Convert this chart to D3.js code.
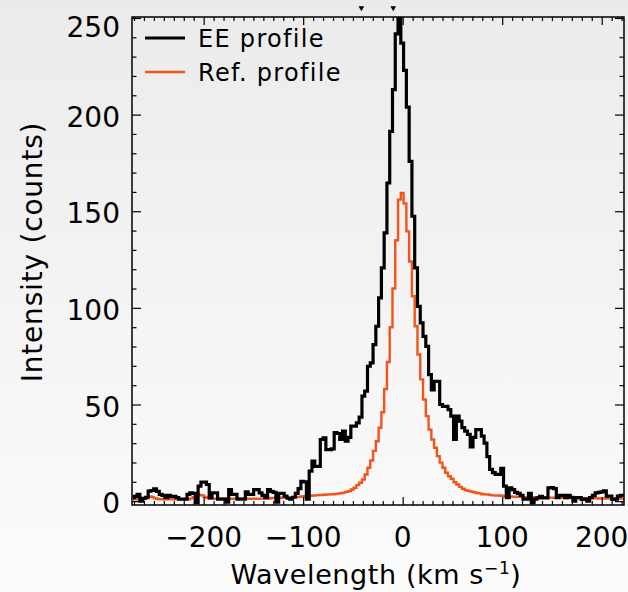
<!DOCTYPE html>
<html>
<head>
<meta charset="utf-8">
<script src="https://cdn.jsdelivr.net/npm/d3@7"></script>
<style>
  html, body { margin: 0; padding: 0; background: #f4f4f4; }
  svg { display: block; }
  text { font-family: "DejaVu Sans", sans-serif; fill: #000; }
</style>
</head>
<body>
<svg id="chart" width="628" height="592"></svg>
<script>
// ---- data ----
const binStart = -272.5;      // km/s, left edge of first spectral bin
const binWidth = 2.79;        // km/s per spectral bin
const eeProfile = [
  1.8, 2.5, 3.5, 0, 1.5, 2, 5.2, 5.5, 6.4, 5,
  3.5, 3, 1.8, 3, 2.5, 2.5, 1.8, 1, 1, 1,
  3.5, 4.3, 4, -0.8, 7.8, 9.8, 9.8, 8.6, 1.8, 4.3,
  4.3, 1, 1, 1, -0.5, 6, 3.5, 3.5, 1, 1,
  1, 4.8, 3.5, 3.5, 6, 6, 4.3, 3, 1.8, 6,
  5, 4.5, -0.5, 4, 4, 2.6, 1.5, 1, 2, 4,
  6.5, 10.3, 10, 1, 15.5, 20.7, 18, 18, 31.9, 32.8,
  26.7, 26.7, 27, 35.4, 35, 31.9, 36.2, 31, 33, 38.8,
  38.8, 40.5, 43.5, 54.3, 56.9, 69.8, 71.5, 81, 90.5, 105.2,
  120.7, 138.8, 164.6, 191.3, 212.9, 241.8, 262, 237, 222.9, 203.9,
  175.8, 147.4, 120.7, 100.8, 92.2, 85.3, 80.1, 65.5, 57.5, 62,
  62, 50, 49, 49, 47.4, 44, 31.9, 44, 41.4, 38,
  36.2, 34.5, 28, 33, 37, 37, 33.6, 30, 23, 16.4,
  14.7, 13.8, 13.8, 17, 7.8, 1.8, 6.9, 6, 4.5, 4,
  3, 1, 1, 4, -0.8, 1, 1.7, 2.5, 1.7, 1.7,
  6.9, 7, 6.5, 1.8, 3, 3, 1.8, 3, 2, 0,
  1.8, 1.8, 0.9, 1, 0, 1.8, 3, 4.3, 4.5, 4.8,
  5.3, 2.6, 2.6, 0.9, 1, 2.6, 3, 3
];
const refProfile = [
  1.0, 1.0, 1.0, 1.0, 1.1, 1.5, 2.4, 2.2, 1.5, 1.1,
  1.0, 1.0, 1.0, 1.0, 1.0, 1.0, 1.0, 1.0, 1.0, 1.0,
  1.0, 1.3, 2.0, 2.8, 3.2, 3.0, 2.2, 1.6, 1.2, 1.2,
  1.2, 1.2, 1.2, 1.2, 1.2, 1.2, 1.2, 1.2, 1.2, 1.2,
  1.2, 1.2, 1.2, 1.2, 1.2, 1.2, 1.3, 1.3, 1.3, 1.4,
  1.6, 1.6, 1.7, 1.7, 1.8, 1.8, 1.8, 1.9, 2.0, 2.1,
  2.2, 2.4, 2.5, 2.6, 2.8, 2.9, 3.0, 3.1, 3.2, 3.3,
  3.4, 3.5, 3.6, 3.7, 3.9, 4.1, 4.4, 4.8, 5.2, 6.0,
  6.9, 8.3, 9.5, 11.2, 13.8, 17.3, 21, 26, 31, 38,
  46, 58, 72, 90, 110, 135, 156, 159.5, 154, 139.6,
  124, 106, 90.5, 75.9, 63, 52.6, 44, 37, 31.9, 27.6,
  23.3, 19.9, 17.3, 14.7, 12.9, 11.6, 9.8, 8.6, 7.4, 6.4,
  5.7, 5.3, 4.9, 4.6, 4.2, 4.0, 3.6, 3.5, 3.4, 3.1,
  3.0, 2.9, 2.9, 2.8, 2.5, 2.4, 2.4, 2.3, 2.3, 2.2,
  2.2, 2.1, 2.1, 2.0, 2.0, 1.9, 1.9, 1.9, 1.8, 1.8,
  1.8, 1.8, 1.7, 1.7, 1.7, 1.7, 1.6, 1.6, 1.6, 1.6,
  1.6, 1.5, 1.5, 1.5, 1.5, 1.5, 1.5, 1.5, 1.4, 1.4,
  1.4, 1.4, 1.4, 1.4, 1.4, 1.4, 1.4, 1.4
];
const xMajorTicks = [-200, -100, 0, 100, 200];
const yMajorTicks = [0, 50, 100, 150, 200, 250];
const topMarkers = [-41.5, -9.5];
const legendLabels = ["EE profile", "Ref. profile"];
const xTitle = "Wavelength (km s";
const xTitleSup = "\u22121";
const yTitle = "Intensity (counts)";

// ---- layout ----
const svg = d3.select("#chart");
const L = 132, R = 624, T = 17, B = 505;
const x = d3.scaleLinear().domain([-272, 222.4]).range([L, R]);
const y = d3.scaleLinear().domain([-2, 250.5]).range([B, T]);

const defs = svg.append("defs");
const grad = defs.append("linearGradient").attr("id", "bg").attr("x1", 0).attr("y1", 0).attr("x2", 0).attr("y2", 1);
grad.append("stop").attr("offset", "0%").attr("stop-color", "#ebebeb");
grad.append("stop").attr("offset", "100%").attr("stop-color", "#fcfcfc");
svg.append("rect").attr("width", 628).attr("height", 592).attr("fill", "url(#bg)");

defs.append("clipPath").attr("id", "clip")
  .append("rect").attr("x", L).attr("y", T).attr("width", R - L).attr("height", B - T);

const velocity = eeProfile.map((_, i) => binStart + (i + 0.5) * binWidth);

const line = d3.line()
  .x((d, i) => x(velocity[i]))
  .y(d => y(d))
  .curve(d3.curveStep);

const plot = svg.append("g").attr("clip-path", "url(#clip)");
plot.append("path").datum(refProfile)
  .attr("d", line).attr("fill", "none")
  .attr("stroke", "#f2541b").attr("stroke-width", 2.4).attr("stroke-linejoin", "miter");
plot.append("path").datum(eeProfile)
  .attr("d", line).attr("fill", "none")
  .attr("stroke", "#000").attr("stroke-width", 3.2).attr("stroke-linejoin", "miter");

// ---- axes (ticks inward on all four sides) ----
const xMinor = d3.range(-270, 221, 10).filter(v => !xMajorTicks.includes(v));
const yMinor = d3.range(0, 251, 10).filter(v => !yMajorTicks.includes(v));

function styleAxis(g) {
  g.select(".domain").remove();
  g.selectAll(".tick line").attr("stroke", "#000").attr("stroke-width", 1.2);
  g.selectAll(".tick text").remove();
}
svg.append("g").attr("transform", `translate(0,${B})`)
  .call(d3.axisBottom(x).tickValues(xMajorTicks).tickSize(-8)).call(styleAxis);
svg.append("g").attr("transform", `translate(0,${B})`)
  .call(d3.axisBottom(x).tickValues(xMinor).tickSize(-4)).call(styleAxis);
svg.append("g").attr("transform", `translate(0,${T})`)
  .call(d3.axisTop(x).tickValues(xMajorTicks).tickSize(-8)).call(styleAxis);
svg.append("g").attr("transform", `translate(0,${T})`)
  .call(d3.axisTop(x).tickValues(xMinor).tickSize(-4)).call(styleAxis);
svg.append("g").attr("transform", `translate(${L},0)`)
  .call(d3.axisLeft(y).tickValues(yMajorTicks).tickSize(-9)).call(styleAxis);
svg.append("g").attr("transform", `translate(${L},0)`)
  .call(d3.axisLeft(y).tickValues(yMinor).tickSize(-4.5)).call(styleAxis);
svg.append("g").attr("transform", `translate(${R},0)`)
  .call(d3.axisRight(y).tickValues(yMajorTicks).tickSize(-9)).call(styleAxis);
svg.append("g").attr("transform", `translate(${R},0)`)
  .call(d3.axisRight(y).tickValues(yMinor).tickSize(-4.5)).call(styleAxis);

svg.append("rect").attr("x", L).attr("y", T).attr("width", R - L).attr("height", B - T)
  .attr("fill", "none").attr("stroke", "#000").attr("stroke-width", 1.5);

// tick labels
svg.append("g").selectAll("text").data(xMajorTicks).join("text")
  .attr("x", d => x(d)).attr("y", 547)
  .attr("text-anchor", "middle").attr("font-size", 28)
  .text(d => d < 0 ? "\u2212" + Math.abs(d) : d);
svg.append("g").selectAll("text").data(yMajorTicks).join("text")
  .attr("x", 120).attr("y", d => Math.max(y(d) + 2, 27))
  .attr("dy", "0.36em")
  .attr("text-anchor", "end").attr("font-size", 28)
  .text(d => d);

// axis titles
const xt = svg.append("text").attr("x", 376).attr("y", 584)
  .attr("text-anchor", "middle").attr("font-size", 27).attr("letter-spacing", 0.6);
xt.append("tspan").text(xTitle);
xt.append("tspan").attr("font-size", 17).attr("dy", -10).text(xTitleSup);
xt.append("tspan").attr("dy", 10).text(")");

svg.append("text")
  .attr("transform", "translate(42,252) rotate(-90)")
  .attr("text-anchor", "middle").attr("font-size", 28).attr("letter-spacing", 0.8)
  .text(yTitle);

// top markers
svg.append("g").selectAll("path").data(topMarkers).join("path")
  .attr("d", d3.symbol(d3.symbolTriangle, 14))
  .attr("transform", d => `translate(${x(d)},8) rotate(180)`)
  .attr("fill", "#000");

// legend
const legend = svg.append("g");
const legColors = ["#000", "#f2541b"];
const legWidths = [3.2, 2.4];
const legY = [38, 72];
legendLabels.forEach((lab, i) => {
  legend.append("line").attr("x1", 145).attr("x2", 185)
    .attr("y1", legY[i]).attr("y2", legY[i])
    .attr("stroke", legColors[i]).attr("stroke-width", legWidths[i]);
  legend.append("text").attr("x", 198).attr("y", legY[i] + 9)
    .attr("font-size", 24).attr("letter-spacing", 1.3).text(lab);
});
</script>
</body>
</html>
